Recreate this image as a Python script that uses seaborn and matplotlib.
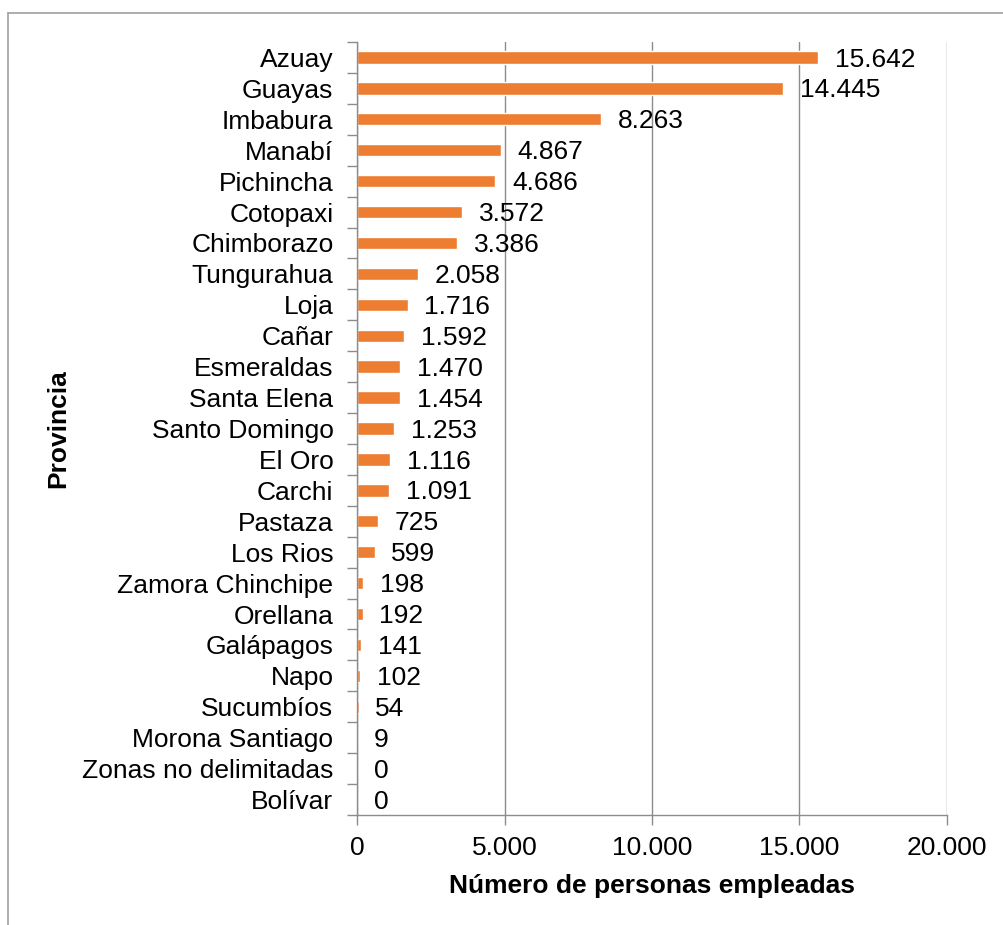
import matplotlib
matplotlib.use("Agg")
import matplotlib.pyplot as plt
from matplotlib.lines import Line2D
from matplotlib.ticker import FixedLocator, FuncFormatter
import seaborn as sns
import pandas as pd
import numpy as np

provincias = [
    "Azuay", "Guayas", "Imbabura", "Manabí", "Pichincha", "Cotopaxi",
    "Chimborazo", "Tungurahua", "Loja", "Cañar", "Esmeraldas", "Santa Elena",
    "Santo Domingo", "El Oro", "Carchi", "Pastaza", "Los Rios",
    "Zamora Chinchipe", "Orellana", "Galápagos", "Napo", "Sucumbíos",
    "Morona Santiago", "Zonas no delimitadas", "Bolívar",
]
empleados = [
    15642, 14445, 8263, 4867, 4686, 3572,
    3386, 2058, 1716, 1592, 1470, 1454,
    1253, 1116, 1091, 725, 599,
    198, 192, 141, 102, 54,
    9, 0, 0,
]
x_ticks = [0, 5000, 10000, 15000, 20000]

df = pd.DataFrame({"Provincia": provincias, "Empleados": empleados})

sns.set_style("white")
plt.rcParams["font.family"] = ["Liberation Sans", "DejaVu Sans"]

BAR = "#ED7D31"
GRID = "#8c8c8c"
FS = 19

fig = plt.figure(figsize=(10.04, 9.25), dpi=100)
ax = fig.add_axes([0.3556, 0.1189, 0.5876, 0.8357])

sns.barplot(data=df, x="Empleados", y="Provincia", orient="h",
            color=BAR, saturation=1, width=0.4, ax=ax)

def miles(v):
    return f"{int(v):,}".replace(",", ".")

for i, v in enumerate(empleados):
    ax.annotate(miles(v), xy=(v, i), xytext=(12, -1.5), textcoords="offset points",
                va="center", ha="left", fontsize=FS, color="black")

n = len(provincias)
ax.set_xlim(0, 20000)
ax.set_ylim(n - 0.5, -0.5)
ax.xaxis.set_major_locator(FixedLocator(x_ticks))
ax.xaxis.set_major_formatter(FuncFormatter(lambda v, p: miles(v)))
ax.grid(axis="x", color=GRID, linewidth=1)
ax.set_axisbelow(True)

# category boundary ticks on the y axis
ax.set_yticks(np.arange(n))
ax.set_yticks(np.arange(n + 1) - 0.5, minor=True)
ax.tick_params(axis="y", which="major", length=0, pad=17, labelsize=FS,
               labelcolor="black")
ax.tick_params(axis="y", which="minor", length=7, width=1, color=GRID, left=True)
ax.tick_params(axis="x", which="major", length=7, width=1, color=GRID,
               pad=8, labelsize=FS, bottom=True, labelcolor="black")

for side in ["top", "right"]:
    ax.spines[side].set_visible(False)
for side in ["left", "bottom"]:
    ax.spines[side].set_color(GRID)
    ax.spines[side].set_linewidth(1)

ax.set_xlabel("Número de personas empleadas", fontsize=FS, fontweight="bold",
              labelpad=10, color="black")
ax.set_ylabel("Provincia", fontsize=FS, fontweight="bold", color="black")
ax.yaxis.set_label_coords(-0.486, 0.5)

# outer frame of the chart area
W, H = 1004, 925
fig.add_artist(Line2D([8 / W, 1.0], [1 - 13 / H, 1 - 13 / H],
                      transform=fig.transFigure, color="#a0a0a0", linewidth=1.2))
fig.add_artist(Line2D([8 / W, 8 / W], [0.0, 1 - 13 / H],
                      transform=fig.transFigure, color="#a0a0a0", linewidth=1.2))

fig.savefig("out.png", dpi=100, facecolor="white")
